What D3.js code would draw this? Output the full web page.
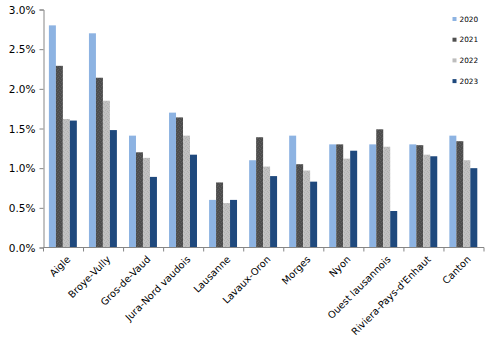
<!DOCTYPE html>
<html>
<head>
<meta charset="utf-8">
<script src="https://cdn.jsdelivr.net/npm/d3@7/dist/d3.min.js"></script>
<style>
  html, body { margin: 0; padding: 0; background: #fff; }
  svg { display: block; }
  text { font-family: "DejaVu Sans", Verdana, sans-serif; fill: #000; }
</style>
</head>
<body>
<svg id="chart" width="491" height="340"></svg>
<script>
// Regions (districts) plus the canton total
const categories = ["Aigle", "Broye-Vully", "Gros-de-Vaud", "Jura-Nord vaudois", "Lausanne",
  "Lavaux-Oron", "Morges", "Nyon", "Ouest lausannois", "Riviera-Pays-d'Enhaut", "Canton"];

// Rates per year, in percent
const years = ["2020", "2021", "2022", "2023"];
const values2020 = [2.80, 2.70, 1.41, 1.70, 0.60, 1.10, 1.41, 1.30, 1.30, 1.30, 1.41];
const values2021 = [2.29, 2.14, 1.20, 1.64, 0.82, 1.39, 1.05, 1.30, 1.49, 1.29, 1.34];
const values2022 = [1.62, 1.85, 1.13, 1.41, 0.56, 1.02, 0.97, 1.12, 1.27, 1.17, 1.10];
const values2023 = [1.60, 1.48, 0.89, 1.17, 0.60, 0.90, 0.83, 1.22, 0.46, 1.15, 1.00];
const series = [values2020, values2021, values2022, values2023];

const yTicks = [0, 0.5, 1.0, 1.5, 2.0, 2.5, 3.0];

const svg = d3.select("#chart");
const plotLeft = 43.5, plotRight = 484, plotTop = 9.5, plotBottom = 247.5;

// Bar fills; the two grey series get a faint speckled texture
const defs = svg.append("defs");
function speckle(id, base, dot) {
  const p = defs.append("pattern").attr("id", id)
    .attr("patternUnits", "userSpaceOnUse").attr("width", 4).attr("height", 4);
  p.append("rect").attr("width", 4).attr("height", 4).attr("fill", base);
  [[0, 0], [2, 1], [1, 2], [3, 3]].forEach(([px, py]) =>
    p.append("rect").attr("x", px).attr("y", py).attr("width", 1).attr("height", 1).attr("fill", dot));
  return `url(#${id})`;
}
const colors = ["#8DB3E2", speckle("p2021", "#4D4D4D", "#5E5E5E"),
  speckle("p2022", "#C2C2C2", "#B2B2B2"), "#1F497D"];
const legendColors = ["#8DB3E2", "#4F4F4F", "#BDBDBD", "#1F497D"];

const x = d3.scaleBand().domain(categories).range([plotLeft, plotRight]).paddingInner(0).paddingOuter(0);
const inner = d3.scaleBand().domain(years).range([5.4, x.bandwidth() - 6.7]).padding(0);
const y = d3.scaleLinear().domain([0, 3]).range([plotBottom, plotTop]);

// Bars
years.forEach((yr, si) => {
  svg.append("g").selectAll("rect").data(series[si]).join("rect")
    .attr("x", (d, i) => x(categories[i]) + inner(yr))
    .attr("width", inner.bandwidth())
    .attr("y", d => y(d))
    .attr("height", d => y(0) - y(d))
    .attr("fill", colors[si]);
});

// Y axis
const yAxis = d3.axisLeft(y).tickValues(yTicks).tickSize(4).tickPadding(4)
  .tickFormat(d => d3.format(".1f")(d) + "%");
const gy = svg.append("g").attr("transform", `translate(${plotLeft},0)`).call(yAxis);
gy.selectAll("text").style("font-size", "10.5px").attr("dy", "0.35em");

// X axis with ticks on category boundaries
const gx = svg.append("g").attr("transform", `translate(0,${plotBottom})`);
gx.append("line").attr("x1", plotLeft).attr("x2", plotRight).attr("y1", 0).attr("y2", 0);
gx.selectAll("line.tick").data(d3.range(categories.length + 1)).join("line")
  .attr("class", "tick")
  .attr("x1", i => plotLeft + i * x.step()).attr("x2", i => plotLeft + i * x.step())
  .attr("y1", 0).attr("y2", 4);
gx.selectAll("text").data(categories).join("text")
  .attr("transform", d => `translate(${x(d) + x.bandwidth() / 2 + 5},${10}) rotate(-45)`)
  .attr("text-anchor", "end")
  .attr("dy", "0.35em")
  .style("font-size", "9.8px")
  .text(d => d);

[gx, gy].forEach(g => {
  g.selectAll("line").attr("stroke", "#868686").attr("stroke-width", 1);
  g.selectAll("path.domain").attr("stroke", "#868686");
});

// Legend
const legend = svg.append("g");
years.forEach((yr, i) => {
  const ly = 19 + i * 20.7;
  legend.append("rect").attr("x", 452.5).attr("y", ly - 2).attr("width", 4).attr("height", 4)
    .attr("fill", legendColors[i]);
  legend.append("text").attr("x", 459.5).attr("y", ly).attr("dy", "0.35em")
    .style("font-size", "7.3px").text(yr);
});
</script>
</body>
</html>
